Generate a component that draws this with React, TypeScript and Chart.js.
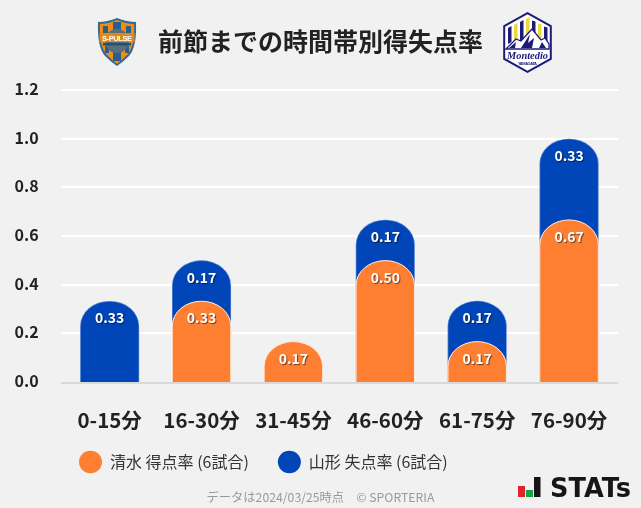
import React, { useEffect, useRef } from "react";
import { Chart, registerables, BarElement } from "chart.js";

Chart.register(...registerables);

const categories = ["0-15分", "16-30分", "31-45分", "46-60分", "61-75分", "76-90分"];
const shimizuScored = [0, 0.333, 0.167, 0.5, 0.167, 0.667];
const yamagataConceded = [0.333, 0.167, 0, 0.167, 0.167, 0.333];
const legendLabels = ["清水 得点率 (6試合)", "山形 失点率 (6試合)"];
const titleText = "前節までの時間帯別得失点率";
const footerText = "データは2024/03/25時点　© SPORTERIA";

const FONT = '"Noto Sans CJK JP", "Noto Sans", sans-serif';
const ORANGE = "#ff7f32";
const BLUE = "#0046b8";

const stackedTops = yamagataConceded.map((v, i) => (v > 0 ? v + shimizuScored[i] : null));
const orangeBars = shimizuScored.map((v) => (v > 0 ? v : null));

// Bars with an elliptical cap: Chart.js clamps a circular radius to half the bar's height.
const CAP_HEIGHT = 25;
(BarElement.prototype as any).draw = function (ctx: CanvasRenderingContext2D) {
  const { x, y, base, width } = (this as any).getProps(["x", "y", "base", "width"]);
  const fill = (this as any).options.backgroundColor;
  if (base - y < 0.5) return;
  const l = x - width / 2;
  const r = x + width / 2;
  ctx.save();
  ctx.beginPath();
  ctx.moveTo(l, base);
  ctx.lineTo(l, y + CAP_HEIGHT);
  ctx.ellipse(x, y + CAP_HEIGHT, width / 2, CAP_HEIGHT, 0, Math.PI, 2 * Math.PI);
  ctx.lineTo(r, base);
  ctx.closePath();
  ctx.fillStyle = fill;
  ctx.fill();
  ctx.beginPath();
  ctx.moveTo(l + 0.25, base);
  ctx.lineTo(l + 0.25, y + CAP_HEIGHT);
  ctx.ellipse(x, y + CAP_HEIGHT, width / 2 - 0.25, CAP_HEIGHT - 0.25, 0, Math.PI, 2 * Math.PI);
  ctx.lineTo(r - 0.25, base);
  ctx.strokeStyle = fill === ORANGE ? "rgba(255,255,255,0.85)" : "rgba(255,255,255,0.3)";
  ctx.lineWidth = 1;
  ctx.stroke();
  ctx.restore();
};

const gridPlugin = {
  id: "fullGrid",
  beforeDatasetsDraw(chart: any) {
    const { ctx, scales } = chart;
    const y = scales.y;
    ctx.save();
    y.ticks.forEach((t: any) => {
      const py = y.getPixelForValue(t.value);
      if (t.value === 0) {
        ctx.fillStyle = "#d9d9d9";
        ctx.fillRect(61, Math.round(py), 557, 2);
      } else {
        ctx.fillStyle = "#ffffff";
        ctx.fillRect(61, Math.round(py) - 1, 557, 2);
      }
    });
    ctx.restore();
  },
};

const legendPlugin = {
  id: "legendPlace",
  afterLayout(chart: any) {
    chart.legend.left = 50;
    chart.legend.top -= 12;
  },
};

const valueLabels = {
  id: "valueLabels",
  afterDatasetsDraw(chart: any) {
    const { ctx } = chart;
    const sources = [yamagataConceded, shimizuScored];
    ctx.save();
    ctx.font = `bold 14px ${FONT}`;
    ctx.textAlign = "center";
    ctx.textBaseline = "middle";
    ctx.fillStyle = "#ffffff";
    ctx.shadowColor = "rgba(0,0,0,0.55)";
    ctx.shadowOffsetX = 1;
    ctx.shadowOffsetY = 1;
    ctx.shadowBlur = 1;
    sources.forEach((src, di) => {
      const meta = chart.getDatasetMeta(di);
      meta.data.forEach((el: any, i: number) => {
        if (src[i] > 0) ctx.fillText(src[i].toFixed(2), el.x, el.y + 17);
      });
    });
    ctx.restore();
  },
};

function ShieldLogo() {
  return (
    <svg style={{ position: "absolute", left: 97, top: 17 }} width={40} height={50} viewBox="0 0 40 50">
      <path d="M1 5 Q10 5 20 1 Q30 5 39 5 Q40 30 32 39 Q26 45 20 49 Q14 45 8 39 Q0 30 1 5Z" fill="#3b6a8f" />
      <path d="M3 7 Q11 7 20 3 Q29 7 37 7 Q38 29 30 38 Q25 43 20 47 Q15 43 10 38 Q2 29 3 7Z" fill="#f28c12" />
      <rect x="16" y="5" width="8" height="8" fill="#2a5f8c" />
      <rect x="6" y="9" width="5" height="8" fill="#2a5f8c" />
      <rect x="29" y="9" width="5" height="8" fill="#2a5f8c" />
      <rect x="16" y="35" width="8" height="9" fill="#2a5f8c" />
      <rect x="8" y="29" width="4" height="7" fill="#2a5f8c" />
      <rect x="28" y="29" width="4" height="7" fill="#2a5f8c" />
      <circle cx="20" cy="24" r="12" fill="#54707c" />
      <rect x="2.500" y="16" width="35" height="9" fill="#e08a16" />
      <text x="20" y="23.500" textAnchor="middle" fontFamily="Liberation Sans" fontWeight="bold" fontSize="7.500" fill="#fff" textLength="30">
        S-PULSE
      </text>
      <rect x="6" y="26" width="28" height="2.500" fill="#24506e" />
    </svg>
  );
}

function HexLogo() {
  return (
    <svg style={{ position: "absolute", left: 503, top: 12 }} width={49} height={61} viewBox="0 0 49 61">
      <path d="M24.500 1.200 L47.800 14 L47.800 47 L24.500 59.800 L1.200 47 L1.200 14 Z" fill="#fff" stroke="#1d1a78" strokeWidth="2" />
      {[5, 11, 17, 23, 29, 35, 41].map((x, i) => (
        <path
          key={x}
          d={`M${x} ${x < 24 ? 32 : 28} L${x} ${x < 24 ? 16 - (x - 5) * 0.5 : 6 + (x - 24) * 0.5} L${x + 3.500} ${x < 24 ? 14 - (x - 5) * 0.5 : 7 + (x - 24) * 0.5} L${x + 3.500} 30Z`}
          fill={i % 2 === 1 ? "#e9d83e" : "#1d1a78"}
        />
      ))}
      <path d="M3 37 L13 27 L18 29 L29 17 L38 28 L42 26 L46 32 L46 37 Z" fill="#fff" stroke="#1d1a78" strokeWidth="1.300" />
      <path d="M18 36 L27 22 L25 31 L31 26 L29 36Z M36 36 L39 30 L43 36Z M6 36 L13 30 L12 36Z" fill="#1d1a78" />
      <text x="24.500" y="47" textAnchor="middle" fontFamily="Liberation Serif" fontStyle="italic" fontWeight="bold" fontSize="10.500" fill="#1d1a78" textLength="41" lengthAdjust="spacingAndGlyphs">
        Montedio
      </text>
      <text x="24.500" y="52.500" textAnchor="middle" fontFamily="Liberation Sans" fontWeight="bold" fontSize="4" fill="#1d1a78" textLength="19">
        YAMAGATA
      </text>
    </svg>
  );
}

function StatsLogo() {
  return (
    <svg style={{ position: "absolute", left: 516, top: 474 }} width={120} height={26} viewBox="0 0 120 26">
      <rect x="2" y="12" width="7" height="11" fill="#e1232b" />
      <rect x="10" y="16" width="7" height="7" fill="#17a34a" />
      <rect x="18" y="3" width="6.500" height="20" fill="#161616" />
      <text x="34" y="23" fontFamily="DejaVu Sans" fontWeight="bold" fontSize="26" fill="#161616" textLength="81" lengthAdjust="spacingAndGlyphs">
        STATs
      </text>
    </svg>
  );
}

export default function App() {
  const ref = useRef<HTMLCanvasElement>(null);

  useEffect(() => {
    document.body.style.margin = "0";
    document.body.style.background = "#f1f1f1";
    const chart = new Chart(ref.current as HTMLCanvasElement, {
      type: "bar",
      data: {
        labels: categories,
        datasets: [
          { label: legendLabels[1], data: stackedTops, backgroundColor: BLUE, borderWidth: 0, order: 2 },
          { label: legendLabels[0], data: orangeBars, backgroundColor: ORANGE, borderWidth: 0, order: 1 },
        ] as any,
      },
      plugins: [gridPlugin, valueLabels, legendPlugin],
      options: {
        responsive: false,
        animation: false,
        layout: { padding: { left: 0, right: 26, top: 90, bottom: 16 } },
        datasets: { bar: { grouped: false, barThickness: 59 } } as any,
        scales: {
          x: {
            grid: { display: false },
            border: { display: false },
            ticks: {
              color: "#222222",
              font: { family: FONT, size: 20.5, weight: "bold" },
              padding: 18,
              maxRotation: 0,
              autoSkip: false,
            },
            afterFit(s: any) {
              s.height = 55;
            },
          },
          y: {
            min: 0,
            max: 1.2,
            grid: { display: false, drawTicks: false },
            border: { display: false },
            ticks: {
              stepSize: 0.2,
              color: "#222222",
              font: { family: FONT, size: 16, weight: "bold" },
              padding: 25,
              labelOffset: -1,
              callback: (v: any) => Number(v).toFixed(1),
            },
            afterFit(s: any) {
              s.width = 63.7;
            },
          },
        },
        plugins: {
          title: { display: false },
          tooltip: { enabled: false },
          legend: {
            display: true,
            position: "bottom",
            align: "start",
            labels: {
              usePointStyle: true,
              pointStyle: "circle",
              pointStyleWidth: 23,
              boxHeight: 16,
              padding: 29,
              color: "#333333",
              font: { family: FONT, size: 16 },
            },
          },
        },
      } as any,
    });
    return () => chart.destroy();
  }, []);

  return (
    <div style={{ position: "relative", width: 641, height: 508, background: "#f1f1f1", overflow: "hidden" }}>
      <canvas ref={ref} width={641} height={508} style={{ position: "absolute", left: 0, top: 0, display: "block" }} />
      <div
        style={{
          position: "absolute",
          left: 120,
          width: 401,
          top: 22,
          textAlign: "center",
          fontFamily: FONT,
          fontWeight: "bold",
          fontSize: 25,
          lineHeight: "36px",
          color: "#222222",
        }}
      >
        {titleText}
      </div>
      <div
        style={{
          position: "absolute",
          left: 120,
          width: 401,
          top: 487,
          textAlign: "center",
          fontFamily: FONT,
          fontSize: 12.25,
          lineHeight: "20px",
          color: "#999999",
        }}
      >
        {footerText}
      </div>
      <ShieldLogo />
      <HexLogo />
      <StatsLogo />
    </div>
  );
}
